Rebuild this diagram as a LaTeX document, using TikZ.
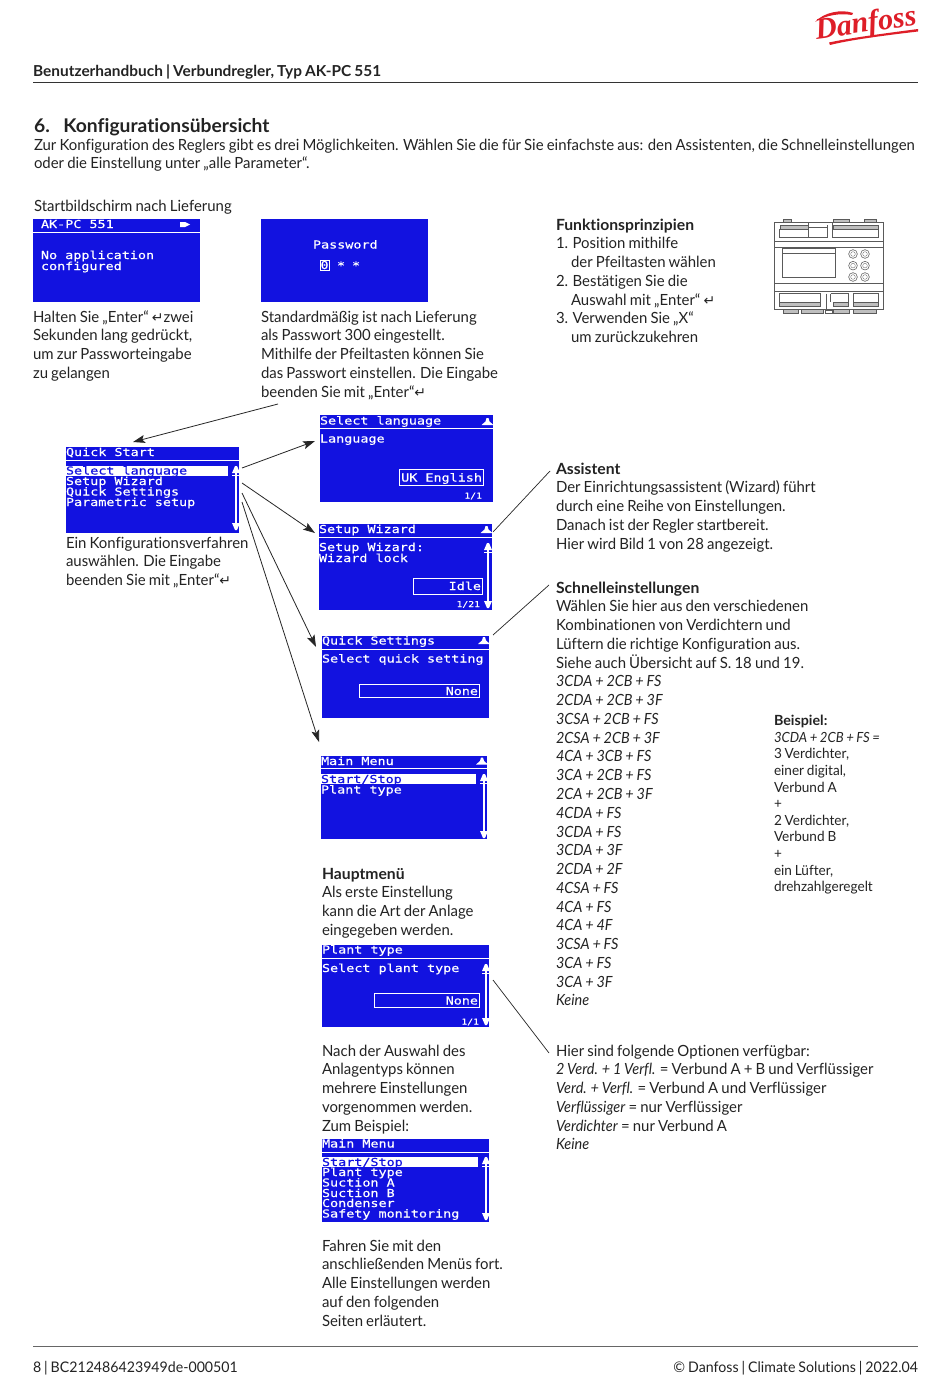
\documentclass[tikz,border=0pt]{standalone}
\usepackage{fontspec}
\setmainfont[FakeStretch=0.97,WordSpace=0.82,Ligatures=CommonOff,BoldFeatures={FakeStretch=1.02},ItalicFeatures={FakeStretch=0.94}]{Lato}
\newfontfamily\lcd[FakeStretch=1.22,FakeBold=0.35]{DejaVu Sans Mono}
\newfontfamily\symf{DejaVu Sans}
\newfontfamily\logof{Liberation Serif}
\newcommand{\ret}{{\symf\fontsize{14}{14}\selectfont ↵}}
\definecolor{lcdblue}{RGB}{18,18,224}
\definecolor{dred}{RGB}{222,30,40}
\definecolor{txtc}{RGB}{35,35,35}
\definecolor{devc}{RGB}{90,90,90}
\usetikzlibrary{arrows.meta}
\tikzset{
 txt/.style={anchor=north west,inner sep=0pt,outer sep=0pt,align=left,text=txtc,yshift=-1pt,font=\fontsize{15.4}{18.77}\selectfont},
 small/.style={anchor=north west,inner sep=0pt,outer sep=0pt,align=left,text=txtc,yshift=-1pt,font=\fontsize{14}{16.6}\selectfont},
 head/.style={anchor=base west,inner sep=0pt,text=txtc,yshift=-1pt,font=\fontsize{15.4}{18}\selectfont\bfseries},
 screen/.style={fill=lcdblue,draw=none},
 lcdt/.style={anchor=base west,inner sep=0pt,outer sep=0pt,text=white,font=\lcd\fontsize{11}{11}\selectfont},
 lcdinv/.style={anchor=base west,inner sep=0pt,outer sep=0pt,text=lcdblue,font=\lcd\fontsize{11}{11}\selectfont},
 lcdsm/.style={anchor=base east,inner sep=0pt,outer sep=0pt,text=white,font=\lcd\fontsize{8}{8}\selectfont},
 arr/.style={draw=black!85,line width=0.8pt,-{Stealth[length=12pt,width=8pt,inset=2.5pt]}},
 lin/.style={draw=black!85,line width=0.7pt},
 lcdline/.style={draw=white,line width=1pt},
 dev/.style={draw=devc,line width=0.55pt},
 devh/.style={draw=devc,line width=0.3pt,fill=black!25}
}
\newcommand{\updown}[3]{% x, ytop, ybot
  \fill[white] (#1-4,#2+7) -- (#1-1,#2) -- (#1+1,#2) -- (#1+4,#2+7) -- cycle;
  \draw[white,line width=1.2pt] (#1,#2) -- (#1,#3);
  \draw[white,line width=1pt] (#1-4,#2+9.5) -- (#1+4,#2+9.5);
  \fill[white] (#1-4,#3-7) -- (#1-1,#3) -- (#1+1,#3) -- (#1+4,#3-7) -- cycle;}
\newcommand{\uptri}[2]{\fill[white] (#1-6,#2+3) -- (#1-2,#2-0.5) -- (#1-1,#2-4) -- (#1+1,#2-4) -- (#1+2,#2-0.5) -- (#1+6,#2+3) -- cycle;}
\begin{document}
\begin{tikzpicture}[x=1pt,y=-1pt]
\useasboundingbox (0,0) rectangle (950,1378);
\fill[white] (0,0) rectangle (950,1378);

% header / footer
\node[head,yshift=-0.5pt,font=\fontsize{15.1}{18}\selectfont\bfseries] (hdr) at (33,75) {Benutzerhandbuch | Verbundregler, Typ AK-PC 551};
\coordinate (hl) at (33,82); \coordinate (hr) at (918,82);
\draw[line width=0.8pt,black!80] (hl) -- (hr);
\coordinate (fl) at (33,1346); \coordinate (fr) at (918,1346);
\draw[line width=0.6pt,black!60] (fl) -- (fr);
\node[txt,anchor=base west,font=\fontsize{14.6}{18}\selectfont] (fleft) at (33,1371) {8 | BC212486423949de-000501};
\node[txt,anchor=base east,font=\fontsize{14.6}{18}\selectfont] (fright) at (918,1371) {© Danfoss | Climate Solutions | 2022.04};

% logo
\node[anchor=base,inner sep=0pt,text=dred,rotate=8,font=\logof\itshape\bfseries\fontsize{30}{30}\selectfont] (logo) at (867,32) {Danfoss};
\fill[dred] (815,22) .. controls (824,12) and (842,9) .. (853,13) -- (852,15) .. controls (840,13) and (826,15) .. (815,22) -- cycle;
\fill[dred] (829,42.5) .. controls (850,38) and (880,34) .. (918,29) -- (918,31.5) .. controls (880,36) and (850,40) .. (830,45) -- cycle;

% title
\node[head,font=\fontsize{18.9}{20}\selectfont\bfseries] (title) at (34,131) {6.\hspace{8pt} Konfigurationsübersicht};
\node[txt] (intro) at (34,135.9) {\strut Zur Konfiguration des Reglers gibt es drei Möglichkeiten. Wählen Sie die für Sie einfachste aus: den Assistenten, die Schnelleinstellungen\\oder die Einstellung unter „alle Parameter“.};
\node[txt] (start) at (34,196.9) {\strut Startbildschirm nach Lieferung};

% screen 1
\fill[screen] (33,219) rectangle (199.5,302) coordinate (s1);
\draw[lcdline] (33,232) -- (199.5,232);
\node[lcdt] at (41,228) {AK-PC 551};
\fill[white] (180,222) -- (180,227) -- (185,227) -- (190,224.5) -- (185,222) -- cycle;
\node[lcdt] at (41,259) {No application};
\node[lcdt] at (41,270) {configured};
% screen 2
\fill[screen] (261,219) rectangle (427.5,302);
\node[lcdt] at (313,248.5) {Password};
\draw[white,line width=0.9pt] (320.5,260) rectangle (329,270.5);
\node[lcdt] at (320.5,269) {0};
\node[lcdt] at (337,269.5) {*};
\node[lcdt] at (352,269.5) {*};

\node[txt] (t1) at (33,307.9) {\strut Halten Sie „Enter“ \ret zwei\\Sekunden lang gedrückt,\\um zur Passworteingabe\\zu gelangen};
\node[txt] (t2) at (261,307.9) {\strut Standardmäßig ist nach Lieferung\\als Passwort 300 eingestellt.\\Mithilfe der Pfeiltasten können Sie\\das Passwort einstellen. Die Eingabe\\beenden Sie mit „Enter“\ret};

% Funktionsprinzipien
\node[txt] (fp) at (556,215.9) {\strut\textbf{Funktionsprinzipien}\\1. Position mithilfe\\\hspace*{15pt}der Pfeiltasten wählen\\2. Bestätigen Sie die\\\hspace*{15pt}Auswahl mit „Enter“ \ret\\3. Verwenden Sie „X“\\\hspace*{15pt}um zurückzukehren};

% device (zoom coordinates: 3x, origin 770,215)
\begin{scope}[shift={(770,215)},x=0.3333pt,y=-0.3333pt]
 \draw[dev,line width=0.8pt] (14,22) rectangle (341,282);
 \draw[dev] (14,78) -- (341,78); \draw[dev] (14,98) -- (341,98);
 \draw[dev] (14,206) -- (341,206); \draw[dev] (14,228) -- (341,228);
 \draw[dev,fill=white,line width=0.8pt] (36,100) rectangle (197,187); \draw[dev] (36,116) -- (197,116);
 \draw[devh] (30,30) rectangle (115,42);
 \draw[devh] (188,30) rectangle (325,42);
 \draw[devh] (28,262) rectangle (150,272);
 \draw[devh] (190,262) rectangle (235,272);
 \draw[devh] (250,262) rectangle (325,272);
 \draw[dev] (28,42) -- (28,68) -- (172,68) -- (172,30);
 \draw[dev] (115,25) -- (115,68); \draw[dev] (115,38) -- (172,38);
 \draw[dev] (188,22) -- (188,68) -- (325,68) -- (325,42);
 \draw[dev] (28,236) -- (150,236) -- (150,262); \draw[dev] (28,236) -- (28,262);
 \draw[dev] (170,236) -- (170,282); \draw[dev] (182,236) -- (235,236) -- (235,262);\draw[dev] (182,236) -- (182,262);
 \draw[dev] (250,236) -- (325,236) -- (325,262); \draw[dev] (250,236) -- (250,262);
 \draw[devh] (38,12) rectangle (62,22);
 \draw[devh] (188,12) rectangle (236,22);
 \draw[devh] (282,12) rectangle (318,22);
 \draw[devh] (38,282) rectangle (85,294);
 \draw[devh] (92,282) rectangle (160,294);
 \draw[devh] (190,282) rectangle (236,294);
 \draw[devh] (248,282) rectangle (318,294);
 \draw[dev] (166,285) rectangle (186,294);
 \foreach \x/\y in {249/117,285/117,249/152,285/152,249/186,285/186}
   {\draw[dev] (\x,\y) circle [radius=13]; \draw[dev,line width=0.3pt] (\x,\y) circle [radius=7];}
\end{scope}

% Quick Start
\fill[screen] (66,446.7) rectangle (239,532.7);
\draw[lcdline] (66,460) -- (239,460);
\node[lcdt] at (66,456) {Quick Start};
\fill[white] (66,465.7) rectangle (228,476);
\node[lcdinv] at (66,474.5) {Select language};
\node[lcdt] at (66,485) {Setup Wizard};
\node[lcdt] at (66,495.5) {Quick Settings};
\node[lcdt] at (66,506) {Parametric setup};
\updown{236}{466}{530}
\coordinate (qs1) at (242,468); \coordinate (qs2) at (242,483);
\coordinate (qs3) at (242,493); \coordinate (qs4) at (242,502);
\node[txt] (t3) at (66,533.9) {\strut Ein Konfigurationsverfahren\\auswählen. Die Eingabe\\beenden Sie mit „Enter“\ret};

% Select language
\fill[screen] (320,415) rectangle (493,501.7);
\draw[lcdline] (320,428) -- (493,428);
\node[lcdt] at (320,424.5) {Select language};
\uptri{487.5}{422}
\node[lcdt] at (320,442.5) {Language};
\draw[lcdline] (399,469) rectangle (483,485);
\node[lcdt,anchor=base east] at (482,481.5) {UK English};
\node[lcdsm] at (482,498.5) {1/1};
% Setup Wizard
\fill[screen] (319,524) rectangle (492,610);
\draw[lcdline] (319,537) -- (492,537);
\node[lcdt] at (319,533) {Setup Wizard};
\uptri{486.5}{530}
\node[lcdt] at (319,551) {Setup Wizard:};
\node[lcdt] at (319,562) {Wizard lock};
\draw[lcdline] (413,578) rectangle (482,594);
\node[lcdt,anchor=base east] at (481,590) {Idle};
\node[lcdsm] at (480,607) {1/21};
\updown{488}{543}{608}
% Quick Settings
\fill[screen] (322,636) rectangle (489,718);
\draw[lcdline] (322,649) -- (489,649);
\node[lcdt] at (322,644.5) {Quick Settings};
\uptri{484}{641}
\node[lcdt] at (322,662.5) {Select quick setting};
\draw[lcdline] (359,684) rectangle (479,697);
\node[lcdt,anchor=base east] at (478,695) {None};
% Main menu 1
\fill[screen] (321,756) rectangle (487,839);
\draw[lcdline] (321,768) -- (487,768);
\node[lcdt] at (321,765) {Main Menu};
\uptri{482}{761.5}
\fill[white] (321,774) rectangle (476,784);
\node[lcdinv] at (321,783) {Start/Stop};
\node[lcdt] at (321,793.5) {Plant type};
\updown{484}{774}{838}
% text
\node[txt] (t4) at (322,864.9) {\strut\textbf{Hauptmenü}\\Als erste Einstellung\\kann die Art der Anlage\\eingegeben werden.};
% Plant type
\fill[screen] (322,945) rectangle (489,1027);
\draw[lcdline] (322,958) -- (489,958);
\node[lcdt] at (322,953.5) {Plant type};
\node[lcdt] at (322,972) {Select plant type};
\draw[lcdline] (374,993) rectangle (479,1007);
\node[lcdt,anchor=base east] at (478,1004.5) {None};
\node[lcdsm] at (479,1024.5) {1/1};
\updown{486}{964}{1025}
\node[txt] (t5) at (322,1041.9) {\strut Nach der Auswahl des\\Anlagentyps können\\mehrere Einstellungen\\vorgenommen werden.\\Zum Beispiel:};
% Main menu 2
\fill[screen] (322,1139) rectangle (489,1222);
\draw[lcdline] (322,1152) -- (489,1152);
\node[lcdt] at (322,1147.5) {Main Menu};
\fill[white] (322,1157) rectangle (478,1167);
\node[lcdinv] at (322,1166) {Start/Stop};
\node[lcdt] at (322,1176) {Plant type};
\node[lcdt] at (322,1186.5) {Suction A};
\node[lcdt] at (322,1197) {Suction B};
\node[lcdt] at (322,1207) {Condenser};
\node[lcdt] at (322,1217.5) {Safety monitoring};
\updown{486}{1157}{1220}
\node[txt] (t6) at (322,1236.9) {\strut Fahren Sie mit den\\anschließenden Menüs fort.\\Alle Einstellungen werden\\auf den folgenden\\Seiten erläutert.};

% right column
\node[txt] (as) at (556,459.9) {\strut\textbf{Assistent}\\Der Einrichtungsassistent (Wizard) führt\\durch eine Reihe von Einstellungen.\\Danach ist der Regler startbereit.\\Hier wird Bild 1 von 28 angezeigt.};
\node[txt] (sn) at (556,578.9) {\strut\textbf{Schnelleinstellungen}\\Wählen Sie hier aus den verschiedenen\\Kombinationen von Verdichtern und\\Lüftern die richtige Konfiguration aus.\\Siehe auch Übersicht auf S. 18 und 19.\\\textit{3CDA + 2CB + FS}\\\textit{2CDA + 2CB + 3F}\\\textit{3CSA + 2CB + FS}\\\textit{2CSA + 2CB + 3F}\\\textit{4CA + 3CB + FS}\\\textit{3CA + 2CB + FS}\\\textit{2CA + 2CB + 3F}\\\textit{4CDA + FS}\\\textit{3CDA + FS}\\\textit{3CDA + 3F}\\\textit{2CDA + 2F}\\\textit{4CSA + FS}\\\textit{4CA + FS}\\\textit{4CA + 4F}\\\textit{3CSA + FS}\\\textit{3CA + FS}\\\textit{3CA + 3F}\\\textit{Keine}};
\node[small] (bs) at (774,713) {\strut\textbf{Beispiel:}\\\textit{3CDA + 2CB + FS =}\\3 Verdichter,\\einer digital,\\Verbund A\\+\\2 Verdichter,\\Verbund B\\+\\ein Lüfter,\\drehzahlgeregelt};
\node[txt] (op) at (556,1041.9) {\strut Hier sind folgende Optionen verfügbar:\\\textit{2 Verd. + 1 Verfl.} = Verbund A + B und Verflüssiger\\\textit{Verd. + Verfl.} = Verbund A und Verflüssiger\\\textit{Verflüssiger} = nur Verflüssiger\\\textit{Verdichter} = nur Verbund A\\\textit{Keine}};

% connectors
\coordinate (a0) at (278,404); \coordinate (a0t) at (133,442);
\coordinate (a1t) at (315,441); \coordinate (a2t) at (315,533);
\coordinate (a3t) at (316,647); \coordinate (a4t) at (319,742);
\draw[arr] (a0) -- (a0t);
\draw[arr] (qs1) -- (a1t);
\draw[arr] (qs2) -- (a2t);
\draw[arr] (qs3) -- (a3t);
\draw[arr] (qs4) -- (a4t);
\coordinate (l1a) at (493,532); \coordinate (l1b) at (550,471);
\coordinate (l2a) at (493,635); \coordinate (l2b) at (549,585);
\coordinate (l3a) at (493,980); \coordinate (l3b) at (549,1053);
\draw[lin] (l1a) -- (l1b);
\draw[lin] (l2a) -- (l2b);
\draw[lin] (l3a) -- (l3b);
\end{tikzpicture}
\end{document}
